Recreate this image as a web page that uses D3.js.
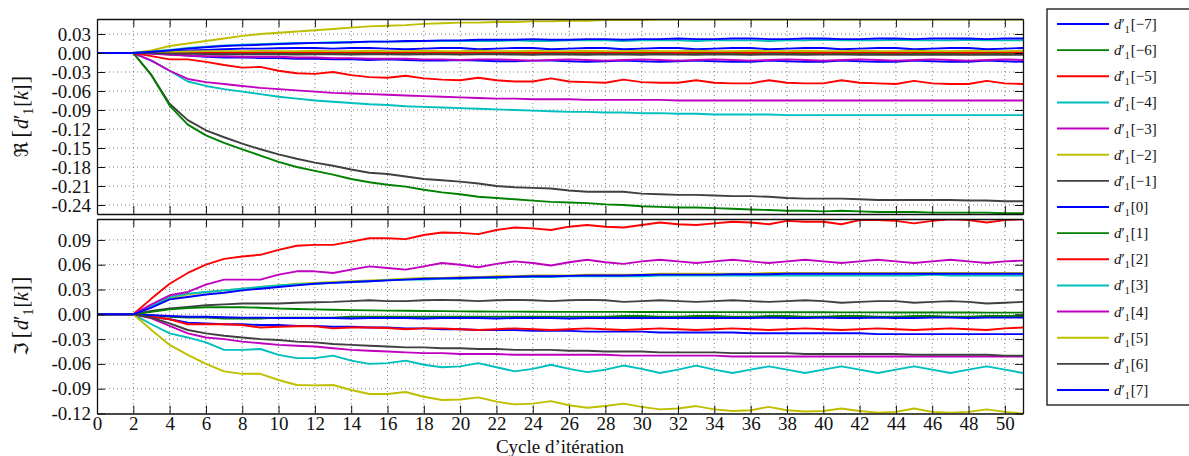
<!DOCTYPE html>
<html><head><meta charset="utf-8">
<script src="https://cdn.jsdelivr.net/npm/d3@7"></script>
<style>body{margin:0;background:#fff}svg{display:block}</style>
</head><body>
<svg id="c" width="1189" height="456"></svg>
<script>
// ---------- data ----------
const iterations = [0,1,2,3,4,5,6,7,8,9,10,11,12,13,14,15,16,17,18,19,20,21,22,23,24,25,26,27,28,29,30,31,32,33,34,35,36,37,38,39,40,41,42,43,44,45,46,47,48,49,50,51];
const xTicks = [0,2,4,6,8,10,12,14,16,18,20,22,24,26,28,30,32,34,36,38,40,42,44,46,48,50];
const reTicks = [0.03,0.00,-0.03,-0.06,-0.09,-0.12,-0.15,-0.18,-0.21,-0.24];
const imTicks = [0.09,0.06,0.03,0.00,-0.03,-0.06,-0.09,-0.12];
const seriesKeys = ["\u22127","\u22126","\u22125","\u22124","\u22123","\u22122","\u22121","0","1","2","3","4","5","6","7"];
const seriesColors = ["#0000ff","#008000","#ff0000","#00bfbf","#bf00bf","#bfbf00","#404040","#0000ff","#008000","#ff0000","#00bfbf","#bf00bf","#bfbf00","#404040","#0000ff"];

// real parts
const re_m7 = [0,0,0,-0.001,-0.002,-0.004,-0.006,-0.007,-0.007,-0.008,
 -0.008,-0.009,-0.009,-0.010,-0.010,-0.011,-0.010,-0.011,-0.012,-0.012,
 -0.011,-0.012,-0.013,-0.013,-0.012,-0.012,-0.013,-0.014,-0.013,-0.012,
 -0.013,-0.014,-0.013,-0.012,-0.013,-0.014,-0.014,-0.012,-0.013,-0.014,
 -0.014,-0.012,-0.013,-0.014,-0.014,-0.012,-0.013,-0.014,-0.014,-0.012,
 -0.013,-0.014];
const re_m6 = [0,0,0,0,-0.001,-0.001,-0.001,-0.001,-0.0015,-0.001,
 -0.001,-0.0015,-0.001,-0.001,-0.0015,-0.001,-0.001,-0.0015,-0.001,-0.001,
 -0.0015,-0.001,-0.001,-0.0015,-0.001,-0.001,-0.0015,-0.001,-0.001,-0.0015,
 -0.001,-0.001,-0.0015,-0.001,-0.001,-0.0015,-0.001,-0.001,-0.0015,-0.001,
 -0.001,-0.0015,-0.001,-0.001,-0.0015,-0.001,-0.001,-0.0015,-0.001,-0.001,
 -0.0015,-0.001];
const re_m5 = [0,0,0,0.001,0.001,0.001,0.0015,0.001,0.0005,0.001,
 0.0015,0.001,0.0005,0.001,0.0015,0.001,0.0005,0.001,0.0015,0.001,
 0.0005,0.001,0.0015,0.001,0.0005,0.001,0.0015,0.001,0.0005,0.001,
 0.0015,0.001,0.0005,0.001,0.0015,0.001,0.0005,0.001,0.0015,0.001,
 0.0005,0.001,0.0015,0.001,0.0005,0.001,0.0015,0.001,0.0005,0.001,
 0.0015,0.001];
const re_m4 = [0,0,0,-0.012,-0.028,-0.045,-0.052,-0.057,-0.061,-0.065,
 -0.069,-0.072,-0.075,-0.077,-0.079,-0.081,-0.082,-0.084,-0.085,-0.086,
 -0.087,-0.088,-0.089,-0.090,-0.091,-0.092,-0.093,-0.093,-0.094,-0.094,
 -0.095,-0.095,-0.096,-0.096,-0.097,-0.097,-0.097,-0.097,-0.098,-0.098,
 -0.098,-0.098,-0.098,-0.098,-0.098,-0.098,-0.098,-0.098,-0.098,-0.098,
 -0.098,-0.098];
const re_m3 = [0,0,0,-0.012,-0.028,-0.041,-0.046,-0.049,-0.052,-0.055,
 -0.057,-0.059,-0.061,-0.063,-0.064,-0.065,-0.066,-0.067,-0.068,-0.069,
 -0.070,-0.071,-0.072,-0.072,-0.073,-0.073,-0.073,-0.074,-0.074,-0.074,
 -0.074,-0.074,-0.075,-0.075,-0.075,-0.075,-0.075,-0.075,-0.075,-0.075,
 -0.075,-0.075,-0.075,-0.075,-0.075,-0.075,-0.075,-0.075,-0.075,-0.075,
 -0.075,-0.075];
const re_m2 = [0,0,0,0.004,0.011,0.015,0.019,0.023,0.027,0.030,
 0.032,0.034,0.036,0.038,0.040,0.042,0.043,0.044,0.046,0.047,
 0.048,0.048,0.049,0.049,0.050,0.050,0.051,0.051,0.052,0.052,
 0.052,0.053,0.053,0.053,0.053,0.053,0.053,0.053,0.053,0.053,
 0.053,0.053,0.053,0.053,0.053,0.053,0.053,0.053,0.053,0.053,
 0.053,0.053];
const re_m1 = [0,0,0,-0.035,-0.080,-0.106,-0.122,-0.133,-0.143,-0.152,
 -0.160,-0.167,-0.173,-0.178,-0.184,-0.189,-0.191,-0.195,-0.199,-0.201,
 -0.203,-0.206,-0.210,-0.212,-0.213,-0.214,-0.217,-0.219,-0.219,-0.219,
 -0.222,-0.223,-0.224,-0.224,-0.225,-0.226,-0.226,-0.227,-0.229,-0.230,
 -0.230,-0.230,-0.231,-0.232,-0.232,-0.232,-0.232,-0.232,-0.233,-0.233,
 -0.234,-0.234];
const re_0 = [0,0,0,0.001,0.003,0.004,0.005,0.006,0.007,0.007,
 0.0075,0.008,0.008,0.007,0.008,0.008,0.007,0.006,0.007,0.008,
 0.008,0.006,0.007,0.008,0.008,0.006,0.007,0.008,0.008,0.006,
 0.007,0.008,0.008,0.006,0.007,0.008,0.008,0.006,0.007,0.008,
 0.008,0.006,0.007,0.008,0.008,0.006,0.007,0.008,0.008,0.006,
 0.007,0.008];
const re_1 = [0,0,0,-0.035,-0.083,-0.113,-0.130,-0.142,-0.152,-0.162,
 -0.172,-0.180,-0.186,-0.192,-0.199,-0.204,-0.208,-0.211,-0.216,-0.220,
 -0.223,-0.227,-0.229,-0.231,-0.233,-0.235,-0.236,-0.237,-0.239,-0.240,
 -0.242,-0.243,-0.244,-0.244,-0.245,-0.246,-0.247,-0.248,-0.249,-0.249,
 -0.250,-0.249,-0.250,-0.251,-0.251,-0.251,-0.252,-0.252,-0.252,-0.252,
 -0.253,-0.253];
const re_2 = [0,0,0,-0.005,-0.010,-0.010,-0.014,-0.019,-0.023,-0.022,
 -0.028,-0.032,-0.033,-0.030,-0.035,-0.038,-0.039,-0.036,-0.040,-0.042,
 -0.043,-0.039,-0.043,-0.045,-0.045,-0.040,-0.045,-0.046,-0.047,-0.042,
 -0.046,-0.047,-0.047,-0.043,-0.047,-0.048,-0.048,-0.043,-0.047,-0.048,
 -0.048,-0.043,-0.047,-0.048,-0.049,-0.044,-0.048,-0.049,-0.049,-0.044,
 -0.048,-0.049];
const re_3 = [0,0,0,0.002,0.005,0.008,0.010,0.012,0.013,0.014,
 0.015,0.016,0.016,0.017,0.017,0.018,0.018,0.018,0.019,0.019,
 0.019,0.019,0.019,0.020,0.019,0.019,0.020,0.020,0.020,0.019,
 0.020,0.020,0.020,0.019,0.020,0.020,0.020,0.019,0.020,0.020,
 0.021,0.020,0.020,0.020,0.021,0.020,0.020,0.020,0.021,0.020,
 0.020,0.020];
const re_4 = [0,0,0,-0.001,-0.003,-0.004,-0.005,-0.005,-0.006,-0.006,
 -0.006,-0.007,-0.007,-0.008,-0.008,-0.009,-0.009,-0.009,-0.010,-0.010,
 -0.011,-0.010,-0.010,-0.011,-0.012,-0.011,-0.010,-0.011,-0.012,-0.011,
 -0.010,-0.011,-0.012,-0.011,-0.010,-0.011,-0.012,-0.011,-0.010,-0.011,
 -0.012,-0.011,-0.010,-0.011,-0.012,-0.011,-0.010,-0.011,-0.012,-0.011,
 -0.010,-0.011];
const re_5 = [0,0,0,0.001,0.002,0.0025,0.003,0.003,0.003,0.0035,
 0.003,0.003,0.0035,0.003,0.003,0.0035,0.003,0.003,0.0035,0.003,
 0.003,0.0035,0.003,0.003,0.0035,0.003,0.003,0.0035,0.003,0.003,
 0.0035,0.003,0.003,0.0035,0.003,0.003,0.0035,0.003,0.003,0.0035,
 0.003,0.003,0.0035,0.003,0.003,0.0035,0.003,0.003,0.0035,0.003,
 0.003,0.0035];
const re_6 = [0,0,0,0,-0.001,-0.001,-0.0015,-0.002,-0.002,-0.002,
 -0.002,-0.0025,-0.002,-0.002,-0.0025,-0.002,-0.002,-0.0025,-0.002,-0.002,
 -0.0025,-0.002,-0.002,-0.0025,-0.003,-0.002,-0.0025,-0.003,-0.002,-0.0025,
 -0.003,-0.002,-0.0025,-0.003,-0.002,-0.0025,-0.003,-0.002,-0.0025,-0.003,
 -0.0025,-0.0025,-0.003,-0.003,-0.0025,-0.003,-0.003,-0.0025,-0.003,-0.003,
 -0.003,-0.003];
const re_7 = [0,0,0,0.002,0.004,0.007,0.009,0.011,0.012,0.013,
 0.014,0.015,0.016,0.016,0.017,0.018,0.018,0.019,0.019,0.020,
 0.020,0.021,0.021,0.021,0.022,0.021,0.021,0.022,0.022,0.021,
 0.022,0.022,0.023,0.022,0.022,0.023,0.023,0.022,0.022,0.023,
 0.023,0.022,0.022,0.023,0.023,0.022,0.023,0.023,0.023,0.022,
 0.023,0.023];

// imaginary parts
const im_m7 = [0,0,0,-0.003,-0.006,-0.010,-0.011,-0.012,-0.012,-0.013,
 -0.013,-0.014,-0.014,-0.015,-0.015,-0.016,-0.016,-0.017,-0.017,-0.018,
 -0.018,-0.019,-0.019,-0.019,-0.020,-0.020,-0.020,-0.021,-0.021,-0.021,
 -0.021,-0.022,-0.022,-0.022,-0.022,-0.022,-0.023,-0.023,-0.023,-0.023,
 -0.023,-0.023,-0.023,-0.024,-0.024,-0.024,-0.024,-0.024,-0.024,-0.024,
 -0.024,-0.024];
const im_m6 = [0,0,0,-0.001,-0.003,-0.004,-0.004,-0.005,-0.005,-0.005,
 -0.004,-0.004,-0.004,-0.004,-0.003,-0.003,-0.003,-0.003,-0.003,-0.003,
 -0.003,-0.003,-0.003,-0.003,-0.003,-0.003,-0.003,-0.003,-0.003,-0.002,
 -0.002,-0.003,-0.003,-0.002,-0.002,-0.003,-0.003,-0.002,-0.002,-0.003,
 -0.003,-0.002,-0.002,-0.003,-0.003,-0.002,-0.002,-0.003,-0.003,-0.002,
 -0.002,-0.002];
const im_m5 = [0,0,0,-0.003,-0.006,-0.012,-0.012,-0.012,-0.013,-0.016,
 -0.015,-0.0145,-0.0145,-0.017,-0.016,-0.016,-0.0165,-0.018,-0.017,-0.017,
 -0.018,-0.019,-0.018,-0.017,-0.018,-0.019,-0.018,-0.017,-0.018,-0.019,
 -0.018,-0.017,-0.018,-0.019,-0.018,-0.017,-0.018,-0.019,-0.018,-0.017,
 -0.018,-0.019,-0.018,-0.017,-0.018,-0.019,-0.018,-0.017,-0.018,-0.019,
 -0.017,-0.016];
const im_m4 = [0,0,0,-0.012,-0.023,-0.028,-0.034,-0.043,-0.043,-0.042,
 -0.049,-0.053,-0.053,-0.050,-0.056,-0.060,-0.059,-0.056,-0.061,-0.064,
 -0.063,-0.059,-0.064,-0.069,-0.066,-0.061,-0.066,-0.070,-0.067,-0.062,
 -0.066,-0.071,-0.067,-0.062,-0.067,-0.071,-0.067,-0.063,-0.067,-0.071,
 -0.067,-0.063,-0.067,-0.071,-0.067,-0.063,-0.067,-0.071,-0.067,-0.063,
 -0.067,-0.071];
const im_m3 = [0,0,0,-0.005,-0.014,-0.023,-0.028,-0.030,-0.033,-0.035,
 -0.037,-0.038,-0.039,-0.041,-0.043,-0.044,-0.045,-0.046,-0.047,-0.047,
 -0.048,-0.048,-0.048,-0.049,-0.049,-0.049,-0.049,-0.049,-0.049,-0.050,
 -0.050,-0.050,-0.050,-0.050,-0.050,-0.051,-0.051,-0.051,-0.051,-0.051,
 -0.051,-0.051,-0.051,-0.051,-0.051,-0.051,-0.051,-0.051,-0.051,-0.051,
 -0.051,-0.051];
const im_m2 = [0,0,0,0.009,0.019,0.024,0.027,0.029,0.031,0.033,
 0.035,0.037,0.038,0.039,0.040,0.041,0.042,0.043,0.044,0.044,
 0.045,0.045,0.046,0.046,0.047,0.047,0.047,0.048,0.048,0.048,
 0.048,0.049,0.049,0.049,0.049,0.049,0.049,0.050,0.050,0.050,
 0.050,0.050,0.050,0.050,0.050,0.050,0.050,0.050,0.050,0.050,
 0.050,0.050];
const im_m1 = [0,0,0,0.004,0.007,0.009,0.011,0.012,0.013,0.013,
 0.013,0.014,0.0145,0.015,0.016,0.017,0.016,0.016,0.017,0.0175,
 0.017,0.016,0.017,0.0175,0.017,0.016,0.017,0.0175,0.017,0.015,
 0.016,0.017,0.016,0.015,0.016,0.017,0.016,0.015,0.016,0.017,
 0.016,0.014,0.015,0.016,0.016,0.014,0.015,0.016,0.015,0.013,
 0.014,0.015];
const im_0 = [0,0,0,-0.001,-0.002,-0.003,-0.003,-0.0035,-0.004,-0.004,
 -0.0045,-0.0045,-0.0045,-0.0045,-0.005,-0.0045,-0.0045,-0.0045,-0.005,-0.0045,
 -0.0045,-0.0045,-0.005,-0.0045,-0.0045,-0.0045,-0.005,-0.0045,-0.0045,-0.0045,
 -0.0045,-0.0045,-0.0045,-0.0045,-0.0045,-0.0045,-0.0045,-0.004,-0.0045,-0.0045,
 -0.004,-0.0045,-0.0045,-0.004,-0.0045,-0.0045,-0.004,-0.004,-0.0045,-0.004,
 -0.004,-0.004];
const im_1 = [0,0,0,0.003,0.006,0.0075,0.0085,0.0085,0.0085,0.008,
 0.007,0.0065,0.006,0.0055,0.005,0.0048,0.0045,0.0043,0.004,0.0038,
 0.0036,0.0034,0.0033,0.0032,0.0031,0.003,0.003,0.003,0.003,0.003,
 0.0028,0.0028,0.0027,0.0027,0.0026,0.0026,0.0025,0.0025,0.0025,0.0024,
 0.0024,0.0023,0.0023,0.0023,0.0022,0.0022,0.0022,0.0021,0.0021,0.002,
 0.002,0.002];
const im_2 = [0,0,0,0.019,0.037,0.050,0.060,0.067,0.070,0.072,
 0.078,0.083,0.084,0.084,0.088,0.092,0.092,0.091,0.096,0.099,
 0.0985,0.097,0.102,0.105,0.104,0.102,0.106,0.108,0.106,0.105,
 0.108,0.111,0.109,0.108,0.110,0.112,0.111,0.109,0.113,0.112,
 0.112,0.109,0.114,0.114,0.113,0.110,0.113,0.115,0.114,0.111,
 0.114,0.115];
const im_3 = [0,0,0,0.010,0.021,0.025,0.027,0.029,0.031,0.033,
 0.035,0.036,0.037,0.038,0.039,0.040,0.041,0.042,0.042,0.043,
 0.043,0.044,0.044,0.045,0.045,0.045,0.046,0.046,0.046,0.046,
 0.046,0.047,0.047,0.047,0.047,0.047,0.047,0.047,0.047,0.047,
 0.047,0.047,0.047,0.047,0.047,0.047,0.048,0.047,0.047,0.047,
 0.047,0.047];
const im_4 = [0,0,0,0.012,0.023,0.027,0.036,0.042,0.042,0.042,
 0.048,0.052,0.052,0.050,0.054,0.058,0.056,0.054,0.058,0.062,
 0.060,0.057,0.061,0.064,0.062,0.059,0.063,0.066,0.063,0.061,
 0.064,0.066,0.064,0.062,0.064,0.066,0.064,0.062,0.064,0.066,
 0.064,0.062,0.064,0.066,0.064,0.062,0.064,0.066,0.064,0.062,
 0.064,0.065];
const im_5 = [0,0,0,-0.019,-0.037,-0.049,-0.060,-0.069,-0.072,-0.072,
 -0.0795,-0.0855,-0.086,-0.0855,-0.0916,-0.0964,-0.0964,-0.094,-0.0997,-0.1037,
 -0.103,-0.1005,-0.1057,-0.109,-0.108,-0.105,-0.110,-0.113,-0.111,-0.108,
 -0.112,-0.115,-0.114,-0.111,-0.115,-0.117,-0.116,-0.112,-0.116,-0.1175,
 -0.117,-0.114,-0.117,-0.119,-0.118,-0.114,-0.118,-0.119,-0.118,-0.115,
 -0.118,-0.120];
const im_6 = [0,0,0,-0.004,-0.011,-0.019,-0.023,-0.026,-0.028,-0.030,
 -0.031,-0.033,-0.034,-0.036,-0.037,-0.038,-0.039,-0.040,-0.040,-0.041,
 -0.041,-0.042,-0.042,-0.043,-0.043,-0.043,-0.044,-0.044,-0.045,-0.045,
 -0.045,-0.046,-0.046,-0.046,-0.046,-0.047,-0.047,-0.047,-0.047,-0.048,
 -0.048,-0.048,-0.048,-0.048,-0.048,-0.049,-0.049,-0.049,-0.049,-0.049,
 -0.050,-0.050];
const im_7 = [0,0,0,0.008,0.018,0.021,0.024,0.026,0.029,0.031,
 0.033,0.035,0.037,0.038,0.039,0.040,0.041,0.042,0.043,0.0435,
 0.044,0.0445,0.045,0.0455,0.046,0.046,0.0465,0.047,0.047,0.047,
 0.0475,0.048,0.048,0.048,0.048,0.0485,0.0485,0.0485,0.049,0.049,
 0.049,0.049,0.049,0.049,0.049,0.049,0.049,0.049,0.049,0.049,
 0.049,0.049];

const realSeries = [re_m7,re_m6,re_m5,re_m4,re_m3,re_m2,re_m1,re_0,re_1,re_2,re_3,re_4,re_5,re_6,re_7];
const imagSeries = [im_m7,im_m6,im_m5,im_m4,im_m3,im_m2,im_m1,im_0,im_1,im_2,im_3,im_4,im_5,im_6,im_7];

// ---------- drawing ----------
const svg = d3.select("#c");
const SERIF = "'Liberation Serif','DejaVu Serif',serif";
const x = d3.scaleLinear().domain([0, 51]).range([97, 1023]);
const fmt = v => (v < -1e-9 ? "-" : "") + Math.abs(v).toFixed(2);

const panels = [
  {top: 19, bottom: 214, domain: [-0.2542, 0.0537], ticks: reTicks, data: realSeries, sym: "\u211C", id: "re"},
  {top: 219, bottom: 413.5, domain: [-0.12, 0.1153], ticks: imTicks, data: imagSeries, sym: "\u2111", id: "im"}
];

const defs = svg.append("defs");

panels.forEach((p, pi) => {
  const y = d3.scaleLinear().domain(p.domain).range([p.bottom, p.top]);
  const g = svg.append("g");

  defs.append("clipPath").attr("id", "clip-" + p.id)
    .append("rect").attr("x", x.range()[0]).attr("y", p.top)
    .attr("width", x.range()[1] - x.range()[0]).attr("height", p.bottom - p.top);

  // grid
  const grid = g.append("g").attr("stroke", "#707070").attr("stroke-width", 0.9)
    .attr("stroke-dasharray", "1,3");
  grid.selectAll("line.v").data(xTicks.filter(t => t > 0)).join("line")
    .attr("x1", d => x(d)).attr("x2", d => x(d)).attr("y1", p.top).attr("y2", p.bottom);
  grid.selectAll("line.h").data(p.ticks).join("line")
    .attr("y1", d => y(d)).attr("y2", d => y(d)).attr("x1", x.range()[0]).attr("x2", x.range()[1]);

  // lines
  const line = d3.line().x((d, i) => x(iterations[i])).y(d => y(d));
  g.append("g").attr("clip-path", `url(#clip-${p.id})`)
    .selectAll("path").data(p.data).join("path")
    .attr("d", d => line(d)).attr("fill", "none")
    .attr("stroke", (d, i) => seriesColors[i]).attr("stroke-width", 1.9)
    .attr("stroke-linejoin", "round");

  // axes (inward ticks)
  const styleAxis = sel => {
    sel.attr("font-family", SERIF).attr("font-size", 19);
    sel.selectAll("path.domain").attr("stroke", "#111").attr("stroke-width", 1.3);
    sel.selectAll(".tick line").attr("stroke", "#111").attr("stroke-width", 1);
    sel.selectAll(".tick text").attr("fill", "#111");
  };
  g.append("g").attr("transform", `translate(${x.range()[0]},0)`)
    .call(d3.axisLeft(y).tickValues(p.ticks).tickFormat(fmt).tickSize(-8).tickSizeOuter(0).tickPadding(6))
    .call(styleAxis);
  g.append("g").attr("transform", `translate(${x.range()[1]},0)`)
    .call(d3.axisRight(y).tickValues(p.ticks).tickFormat("").tickSize(-8).tickSizeOuter(0))
    .call(styleAxis);
  g.append("g").attr("transform", `translate(0,${p.top})`)
    .call(d3.axisTop(x).tickValues(xTicks).tickFormat("").tickSize(-8).tickSizeOuter(0))
    .call(styleAxis);
  const bottomAxis = d3.axisBottom(x).tickValues(xTicks).tickSize(-8).tickSizeOuter(0).tickPadding(3)
    .tickFormat(pi === 1 ? d3.format("d") : "");
  g.append("g").attr("transform", `translate(0,${p.bottom})`)
    .call(bottomAxis).call(styleAxis);

  // y label
  const cy = (p.top + p.bottom) / 2;
  const t = svg.append("text").attr("transform", `translate(28,${cy}) rotate(-90)`)
    .attr("text-anchor", "middle").attr("font-family", SERIF).attr("font-size", 20).attr("fill", "#111");
  t.append("tspan").attr("font-family", "'DejaVu Serif','DejaVu Sans',serif").attr("font-size", 19).text(p.sym);
  t.append("tspan").attr("dx", 4).attr("font-size", 23).text("[");
  t.append("tspan").attr("font-style", "italic").attr("dx", 1).text("d");
  t.append("tspan").text("\u2032");
  t.append("tspan").attr("font-size", 14).attr("dy", 5).text("1");
  t.append("tspan").attr("dy", -5).attr("dx", 1).text("[");
  t.append("tspan").attr("font-style", "italic").text("k");
  t.append("tspan").text("]");
  t.append("tspan").attr("font-size", 23).attr("dx", 1).text("]");
});

// x label
svg.append("text").attr("x", (x.range()[0] + x.range()[1]) / 2).attr("y", 452.5)
  .attr("text-anchor", "middle").attr("font-family", SERIF).attr("font-size", 19).attr("fill", "#111")
  .text("Cycle d\u2019it\u00e9ration");

// legend
const lg = svg.append("g");
lg.append("rect").attr("x", 1047).attr("y", 9).attr("width", 170).attr("height", 396)
  .attr("fill", "#fff").attr("stroke", "#111").attr("stroke-width", 1.3);
const rowY = d3.scaleLinear().domain([0, seriesKeys.length - 1]).range([24, 390]);
seriesKeys.forEach((k, i) => {
  const yy = rowY(i);
  lg.append("line").attr("x1", 1057).attr("x2", 1109).attr("y1", yy).attr("y2", yy)
    .attr("stroke", seriesColors[i]).attr("stroke-width", 1.9);
  const tx = lg.append("text").attr("x", 1114).attr("y", yy + 5)
    .attr("font-family", SERIF).attr("font-size", 15).attr("fill", "#111");
  tx.append("tspan").attr("font-style", "italic").text("d");
  tx.append("tspan").text("\u2032");
  tx.append("tspan").attr("font-size", 10).attr("dy", 4).text("1");
  tx.append("tspan").attr("dy", -4).attr("dx", 1).text("[" + k + "]");
});
</script>
</body></html>
